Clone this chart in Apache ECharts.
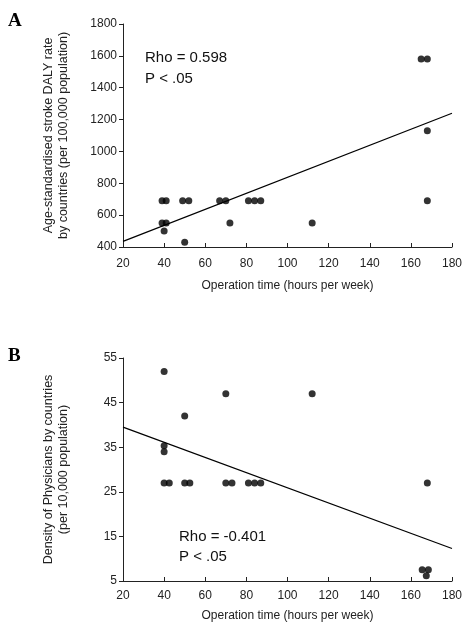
<!DOCTYPE html>
<html lang="en">

<head>
  <meta charset="UTF-8">
  <title>Operation time vs stroke DALY / physicians</title>
  <script src="https://cdn.jsdelivr.net/npm/echarts@6/dist/echarts.min.js"></script>
  <style>
    html, body { margin: 0; padding: 0; background: #fff; }
    #chart { width: 471px; height: 631px; }
  </style>
</head>

<body>
  <div id="chart"></div>

  <script>
    // panel A: stroke DALY rate vs operation time
    const hoursA = [39, 41, 39, 41, 40, 49, 52, 50, 67, 70, 72, 81, 84, 87, 112, 165, 168, 168, 168]
    const dalyA = [690, 690, 550, 550, 500, 690, 690, 430, 690, 690, 550, 690, 690, 690, 550, 1580, 1580, 1130, 690]

    // panel B: physician density vs operation time
    const hoursB = [40, 40, 40, 40, 42.5, 50, 50, 52.5, 70, 70, 73, 81, 84, 87, 112, 165.5, 168.5, 167.5, 168]
    const physB = [52, 35.3, 34, 27, 27, 42, 27, 27, 47, 27, 27, 27, 27, 27, 47, 7.5, 7.5, 6.2, 27]

    // fitted lines (end points)
    const trendX = [20, 180]
    const trendA = [435, 1240]
    const trendB = [39.5, 12.3]

    const xTicks = [20, 40, 60, 80, 100, 120, 140, 160, 180]
    const yTicksA = [400, 600, 800, 1000, 1200, 1400, 1600, 1800]
    const yTicksB = [5, 15, 25, 35, 45, 55]

    const font = 'Liberation Sans, Arial, sans-serif'
    const ink = '#222'

    const zip = (xs, ys) => xs.map((x, i) => [x, ys[i]])

    function xAxis(idx) {
      return {
        type: 'value', gridIndex: idx,
        min: xTicks[0], max: xTicks[xTicks.length - 1], interval: 20,
        name: 'Operation time (hours per week)',
        nameLocation: 'middle', nameGap: idx === 0 ? 33 : 29,
        nameMoveOverlap: false,
        nameTextStyle: { fontFamily: font, fontSize: 12, color: ink },
        axisLine: { lineStyle: { color: ink, width: 1 } },
        axisTick: { inside: true, length: 4, lineStyle: { color: ink } },
        axisLabel: { fontFamily: font, fontSize: 12, color: ink, margin: idx === 0 ? 11 : 9 },
        splitLine: { show: false }
      }
    }

    function yAxis(idx, ticks, name) {
      return {
        type: 'value', gridIndex: idx,
        min: ticks[0], max: ticks[ticks.length - 1], interval: ticks[1] - ticks[0],
        name: name,
        nameLocation: 'middle', nameGap: 52, nameRotate: 90,
        nameMoveOverlap: false,
        nameTextStyle: { fontFamily: font, fontSize: 12.5, color: ink, lineHeight: 15 },
        axisLine: { show: true, lineStyle: { color: ink, width: 1 } },
        axisTick: { show: true, length: 4, lineStyle: { color: ink } },
        axisLabel: { fontFamily: font, fontSize: 12, color: ink, margin: 6, formatter: v => String(v) },
        splitLine: { show: false }
      }
    }

    const dots = (idx, data) => ({
      type: 'scatter', xAxisIndex: idx, yAxisIndex: idx,
      data: data, symbolSize: 7,
      itemStyle: { color: '#000' }, silent: true
    })

    const trend = (idx, ys) => ({
      type: 'line', xAxisIndex: idx, yAxisIndex: idx,
      data: zip(trendX, ys), symbol: 'none',
      lineStyle: { color: '#000', width: 1.2 }, silent: true
    })

    const label = (txt, x, y, size, extra) => ({
      type: 'text', x: x, y: y,
      style: Object.assign({
        text: txt, fill: '#111', fontFamily: font, fontSize: size,
        verticalAlign: 'middle'
      }, extra || {})
    })

    const chart = echarts.init(document.getElementById('chart'))
    chart.setOption({
      animation: false,
      backgroundColor: '#fff',
      grid: [
        { left: 123, right: 19, top: 24, height: 223 },
        { left: 123, right: 19, top: 358, height: 223 }
      ],
      xAxis: [xAxis(0), xAxis(1)],
      yAxis: [
        yAxis(0, yTicksA, 'Age-standardised stroke DALY rate\nby countries (per 100,000 population)'),
        yAxis(1, yTicksB, 'Density of Physicians by countries\n(per 10,000 population)')
      ],
      series: [
        trend(0, trendA), dots(0, zip(hoursA, dalyA)),
        trend(1, trendB), dots(1, zip(hoursB, physB))
      ],
      graphic: [
        label('A', 8, 21, 19, { fontFamily: 'Liberation Serif, Times New Roman, serif', fontWeight: 'bold', fill: '#000' }),
        label('B', 8, 356, 19, { fontFamily: 'Liberation Serif, Times New Roman, serif', fontWeight: 'bold', fill: '#000' }),
        label('Rho = 0.598', 145, 58, 15),
        label('P < .05', 145, 79, 15),
        label('Rho = -0.401', 179, 537, 15),
        label('P < .05', 179, 557, 15)
      ]
    })
  </script>
</body>

</html>
